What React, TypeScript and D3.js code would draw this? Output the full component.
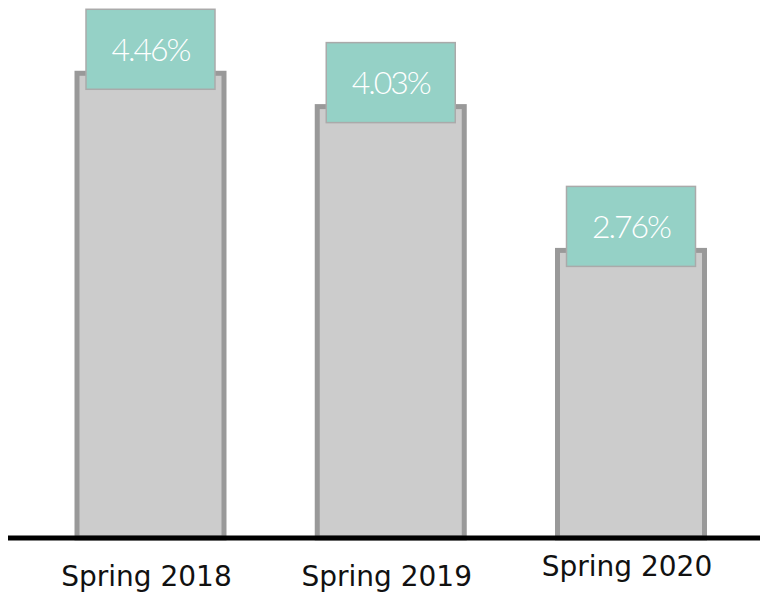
import React from "react";
import * as d3 from "d3";

const categories = ["Spring 2018", "Spring 2019", "Spring 2020"];
// bar lengths as drawn in the picture (in percent units)
const barValues = [4.46, 4.14, 2.76];
// value labels printed in the boxes
const valueLabels = ["4.46%", "4.03%", "2.76%"];

const W = 760;
const H = 596;

export default function App() {
  const x = d3.scalePoint<string>().domain(categories).range([150.5, 631]);
  const y = d3.scaleLinear().domain([0, 5]).range([538, 17]);
  const barW = 147;
  const boxW = 129;
  const boxH = 80;

  return (
    <svg
      width={W}
      height={H}
      style={{ position: "absolute", left: 0, top: 0, background: "#fff" }}
    >
      {categories.map((c, i) => {
        const cx = x(c)!;
        const top = y(barValues[i]);
        return (
          <g key={c}>
            <rect
              x={cx - barW / 2}
              y={top}
              width={barW}
              height={y(0) - top}
              fill="#cccccc"
              stroke="#999999"
              strokeWidth={5}
            />
            <rect
              x={cx - boxW / 2}
              y={top - 64}
              width={boxW}
              height={boxH}
              fill="#95d1c6"
              stroke="#aaaaaa"
              strokeWidth={1.5}
            />
            <text
              x={cx}
              y={top - 64 + boxH / 2 + 11.5}
              textAnchor="middle"
              fill="#ffffff"
              fontFamily="Lato"
              fontWeight={300}
              fontSize={32}
              letterSpacing={-2}
            >
              {valueLabels[i]}
            </text>
          </g>
        );
      })}
      <line x1={8} x2={760} y1={y(0)} y2={y(0)} stroke="#000" strokeWidth={5} />
      {categories.map((c, i) => (
        <text
          key={c}
          x={x(c)! - 4}
          y={i === 2 ? 576 : 585.5}
          textAnchor="middle"
          fill="#111"
          fontFamily="DejaVu Sans"
          fontSize={28}
        >
          {c}
        </text>
      ))}
    </svg>
  );
}
